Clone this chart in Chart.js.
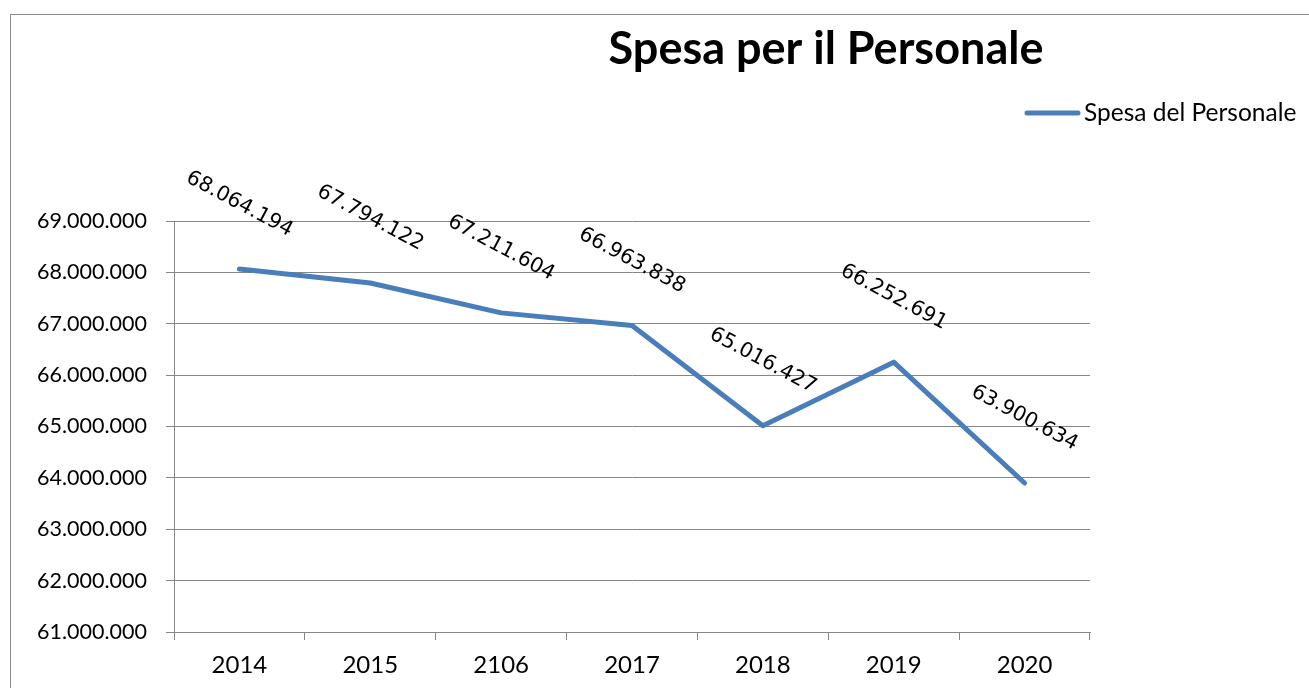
<!DOCTYPE html>
<html lang="it">
<head>
<meta charset="utf-8">
<title>Spesa per il Personale</title>
<script src="https://cdn.jsdelivr.net/npm/chart.js@4/dist/chart.umd.min.js"></script>
<style>
    html, body { margin: 0; padding: 0; background: #fff; }
    #box { width: 1309px; height: 688px; }
</style>
</head>
<body>
<div id="box"><canvas id="chartSpesa" width="1309" height="688"></canvas></div>
<script>
// Dati
const anni = ['2014', '2015', '2106', '2017', '2018', '2019', '2020'];
const spesaPersonale = [68064194, 67794122, 67211604, 66963838, 65016427, 66252691, 63900634];
const titolo = 'Spesa per il Personale';
const nomeSerie = 'Spesa del Personale';
const asseMin = 61000000;
const asseMax = 69000000;
const passo = 1000000;

const blu = '#4a7ebb';
const grigio = '#868686';

// formato italiano con i punti: 68.064.194
function formatta(n) {
    return n.toString().replace(/\B(?=(\d{3})+(?!\d))/g, '.');
}

// cornice, titolo, legenda ed etichette ruotate
const decorazioni = {
    id: 'decorazioni',
    beforeDraw(chart) {
        const ctx = chart.ctx;
        ctx.save();
        ctx.fillStyle = '#fff';
        ctx.fillRect(0, 0, chart.width, chart.height);
        ctx.strokeStyle = '#8c8c8c';
        ctx.lineWidth = 1;
        ctx.strokeRect(10.5, 14.5, chart.width + 20, chart.height + 20);
        ctx.restore();
    },
    afterDatasetsDraw(chart) {
        const ctx = chart.ctx;
        const meta = chart.getDatasetMeta(0);
        ctx.save();
        ctx.font = '20.5px "DejaVu Sans"';
        ctx.fillStyle = '#000';
        ctx.textAlign = 'center';
        ctx.textBaseline = 'middle';
        meta.data.forEach((p, i) => {
            ctx.save();
            ctx.translate(p.x, p.y - 65);
            ctx.rotate(28 * Math.PI / 180);
            ctx.fillText(formatta(spesaPersonale[i]), 0, 0);
            ctx.restore();
        });
        ctx.restore();
    },
    afterDraw(chart) {
        const ctx = chart.ctx;
        const ds = chart.data.datasets[0];
        ctx.save();
        // titolo
        ctx.font = 'bold 45px Lato';
        ctx.fillStyle = '#000';
        ctx.textAlign = 'center';
        ctx.textBaseline = 'alphabetic';
        ctx.fillText(titolo, 826, 64);
        // legenda
        ctx.strokeStyle = ds.borderColor;
        ctx.lineWidth = 5;
        ctx.lineCap = 'round';
        ctx.beginPath();
        ctx.moveTo(1027, 113);
        ctx.lineTo(1078, 113);
        ctx.stroke();
        ctx.font = '24.5px Lato';
        ctx.textAlign = 'left';
        ctx.fillText(ds.label, 1084, 121);
        ctx.restore();
    }
};

const ctxSpesa = document.getElementById('chartSpesa');
new Chart(ctxSpesa, {
    type: 'line',
    data: {
        labels: anni,
        datasets: [{
            label: nomeSerie,
            data: spesaPersonale,
            borderColor: blu,
            backgroundColor: blu,
            borderWidth: 5,
            borderCapStyle: 'round',
            borderJoinStyle: 'round',
            pointRadius: 0,
            tension: 0,
            fill: false
        }]
    },
    options: {
        responsive: false,
        animation: false,
        devicePixelRatio: 1,
        layout: { padding: { top: 221, right: 219, bottom: 0, left: 0 } },
        plugins: {
            legend: { display: false },
            title: { display: false },
            tooltip: { enabled: false }
        },
        scales: {
            x: {
                offset: true,
                grid: { offset: true, drawOnChartArea: false, drawTicks: true, tickLength: 8, color: grigio },
                border: { color: grigio, width: 1 },
                ticks: { font: { family: 'Lato', size: 24 }, color: '#000', padding: 11, maxRotation: 0 },
                afterFit: s => { s.height = 56; }
            },
            y: {
                min: asseMin,
                max: asseMax,
                grid: { color: grigio, tickLength: 8 },
                border: { color: grigio, width: 1 },
                ticks: {
                    stepSize: passo,
                    font: { family: 'Lato', size: 21.5 },
                    color: '#000',
                    padding: 19,
                    callback: v => formatta(v)
                },
                afterFit: s => { s.width = 174; }
            }
        }
    },
    plugins: [decorazioni]
});
</script>
</body>
</html>
